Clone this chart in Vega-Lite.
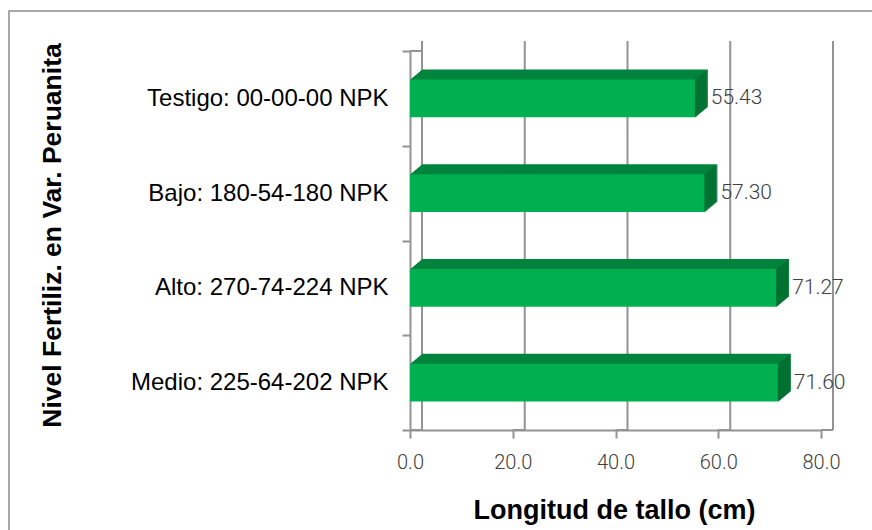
{
  "$schema": "https://vega.github.io/schema/vega-lite/v6.json",
  "width": 411,
  "height": 379,
  "autosize": "none",
  "padding": {"left": 410, "top": 51, "right": 51, "bottom": 100},
  "background": "white",
  "config": {"view": {"stroke": null}},
  "layer": [
    {
      "data": {"values": [{}]},
      "mark": {"type": "rect", "x": -401, "y": -40, "x2": 470, "y2": 490, "fill": null, "stroke": "#8c8c8c", "strokeWidth": 1.5},
      "encoding": {}
    },
    {
      "data": {"values": [{}]},
      "layer": [
        {"mark": {"type": "rule", "color": "#939393", "strokeWidth": 2, "xOffset": 12, "yOffset": -10, "y2Offset": -10}, "encoding": {"x": {"datum": 0, "type": "quantitative"}}},
        {"mark": {"type": "rule", "color": "#939393", "strokeWidth": 2, "xOffset": 12, "yOffset": -10, "y2Offset": -10}, "encoding": {"x": {"datum": 20, "type": "quantitative"}}},
        {"mark": {"type": "rule", "color": "#939393", "strokeWidth": 2, "xOffset": 12, "yOffset": -10, "y2Offset": -10}, "encoding": {"x": {"datum": 40, "type": "quantitative"}}},
        {"mark": {"type": "rule", "color": "#939393", "strokeWidth": 2, "xOffset": 12, "yOffset": -10, "y2Offset": -10}, "encoding": {"x": {"datum": 60, "type": "quantitative"}}},
        {"mark": {"type": "rule", "color": "#939393", "strokeWidth": 2, "xOffset": 12, "yOffset": -10, "y2Offset": -10}, "encoding": {"x": {"datum": 80, "type": "quantitative"}}},
        {"mark": {"type": "rule", "color": "#939393", "strokeWidth": 2, "y": "height", "y2": "height", "x2Offset": 12, "y2Offset": -10}, "encoding": {"x": {"datum": 0, "type": "quantitative"}, "x2": {"datum": 0}}},
        {"mark": {"type": "rule", "color": "#939393", "strokeWidth": 2, "y": "height", "y2": "height", "x2Offset": 12, "y2Offset": -10}, "encoding": {"x": {"datum": 20, "type": "quantitative"}, "x2": {"datum": 20}}},
        {"mark": {"type": "rule", "color": "#939393", "strokeWidth": 2, "y": "height", "y2": "height", "x2Offset": 12, "y2Offset": -10}, "encoding": {"x": {"datum": 40, "type": "quantitative"}, "x2": {"datum": 40}}},
        {"mark": {"type": "rule", "color": "#939393", "strokeWidth": 2, "y": "height", "y2": "height", "x2Offset": 12, "y2Offset": -10}, "encoding": {"x": {"datum": 60, "type": "quantitative"}, "x2": {"datum": 60}}},
        {"mark": {"type": "rule", "color": "#939393", "strokeWidth": 2, "y": "height", "y2": "height", "x2Offset": 12, "y2Offset": -10}, "encoding": {"x": {"datum": 80, "type": "quantitative"}, "x2": {"datum": 80}}},
        {"mark": {"type": "rule", "color": "#939393", "strokeWidth": 2, "y": 0, "y2": 0, "x2Offset": 12, "y2Offset": -10}, "encoding": {"x": {"datum": 0, "type": "quantitative"}, "x2": {"datum": 0}}}
      ]
    },
    {
      "data": {
        "values": [
          {"nivel": "Testigo: 00-00-00 NPK", "longitud": 55.43},
          {"nivel": "Bajo: 180-54-180 NPK", "longitud": 57.30},
          {"nivel": "Alto: 270-74-224 NPK", "longitud": 71.27},
          {"nivel": "Medio: 225-64-202 NPK", "longitud": 71.60}
        ]
      },
      "encoding": {
        "y": {
          "field": "nivel",
          "type": "nominal",
          "sort": null,
          "scale": {"paddingInner": 0, "paddingOuter": 0},
          "axis": {
            "title": "Nivel Fertiliz. en Var. Peruanita",
            "titleFont": "Liberation Sans",
            "titleFontSize": 26.5,
            "titleFontWeight": "bold",
            "titleColor": "#000000",
            "titleX": -350,
            "titleY": 184,
            "titleAngle": 270,
            "titleAlign": "center",
            "titleBaseline": "alphabetic",
            "labelFont": "Liberation Sans",
            "labelFontSize": 24,
            "labelColor": "#000000",
            "labelPadding": 14,
            "labelLimit": 400,
            "tickBand": "extent",
            "tickSize": 8,
            "tickColor": "#939393",
            "tickWidth": 2,
            "domainColor": "#939393",
            "domainWidth": 2,
            "grid": false
          }
        },
        "x": {
          "field": "longitud",
          "type": "quantitative",
          "scale": {"domain": [0, 80], "nice": false},
          "axis": {
            "title": "Longitud de tallo (cm)",
            "titleFont": "Liberation Sans",
            "titleFontSize": 27,
            "titleFontWeight": "bold",
            "titleColor": "#000000",
            "titleX": 204,
            "titleY": 88,
            "titleAlign": "center",
            "titleBaseline": "alphabetic",
            "values": [0, 20, 40, 60, 80],
            "format": ".1f",
            "labelFont": "Roboto",
            "labelFontWeight": 300,
            "labelFontSize": 20,
            "labelColor": "#404040",
            "labelPadding": 14,
            "labelFlush": false,
            "tickSize": 8,
            "tickColor": "#939393",
            "tickWidth": 2,
            "domainColor": "#939393",
            "domainWidth": 2,
            "grid": false
          }
        }
      },
      "layer": [
        {"mark": {"type": "bar", "height": {"band": 0.4}, "color": "#00843d", "xOffset": 1, "x2Offset": 1, "yOffset": -0.83, "y2Offset": -0.83}},
        {"mark": {"type": "bar", "height": {"band": 0.4}, "color": "#00843d", "xOffset": 2, "x2Offset": 2, "yOffset": -1.67, "y2Offset": -1.67}},
        {"mark": {"type": "bar", "height": {"band": 0.4}, "color": "#00843d", "xOffset": 3, "x2Offset": 3, "yOffset": -2.5, "y2Offset": -2.5}},
        {"mark": {"type": "bar", "height": {"band": 0.4}, "color": "#00843d", "xOffset": 4, "x2Offset": 4, "yOffset": -3.33, "y2Offset": -3.33}},
        {"mark": {"type": "bar", "height": {"band": 0.4}, "color": "#00843d", "xOffset": 5, "x2Offset": 5, "yOffset": -4.17, "y2Offset": -4.17}},
        {"mark": {"type": "bar", "height": {"band": 0.4}, "color": "#00843d", "xOffset": 6, "x2Offset": 6, "yOffset": -5, "y2Offset": -5}},
        {"mark": {"type": "bar", "height": {"band": 0.4}, "color": "#00843d", "xOffset": 7, "x2Offset": 7, "yOffset": -5.83, "y2Offset": -5.83}},
        {"mark": {"type": "bar", "height": {"band": 0.4}, "color": "#00843d", "xOffset": 8, "x2Offset": 8, "yOffset": -6.67, "y2Offset": -6.67}},
        {"mark": {"type": "bar", "height": {"band": 0.4}, "color": "#00843d", "xOffset": 9, "x2Offset": 9, "yOffset": -7.5, "y2Offset": -7.5}},
        {"mark": {"type": "bar", "height": {"band": 0.4}, "color": "#00843d", "xOffset": 10, "x2Offset": 10, "yOffset": -8.33, "y2Offset": -8.33}},
        {"mark": {"type": "bar", "height": {"band": 0.4}, "color": "#00843d", "xOffset": 11, "x2Offset": 11, "yOffset": -9.17, "y2Offset": -9.17}},
        {"mark": {"type": "bar", "height": {"band": 0.4}, "color": "#00843d", "xOffset": 12, "x2Offset": 12, "yOffset": -10, "y2Offset": -10}},
        {"mark": {"type": "bar", "height": {"band": 0.4}, "color": "#006f30", "xOffset": 0, "x2Offset": 1, "yOffset": 0, "y2Offset": 0}, "encoding": {"x2": {"field": "longitud"}}},
        {"mark": {"type": "bar", "height": {"band": 0.4}, "color": "#006f30", "xOffset": 1, "x2Offset": 2, "yOffset": -0.83, "y2Offset": -0.83}, "encoding": {"x2": {"field": "longitud"}}},
        {"mark": {"type": "bar", "height": {"band": 0.4}, "color": "#006f30", "xOffset": 2, "x2Offset": 3, "yOffset": -1.67, "y2Offset": -1.67}, "encoding": {"x2": {"field": "longitud"}}},
        {"mark": {"type": "bar", "height": {"band": 0.4}, "color": "#006f30", "xOffset": 3, "x2Offset": 4, "yOffset": -2.5, "y2Offset": -2.5}, "encoding": {"x2": {"field": "longitud"}}},
        {"mark": {"type": "bar", "height": {"band": 0.4}, "color": "#006f30", "xOffset": 4, "x2Offset": 5, "yOffset": -3.33, "y2Offset": -3.33}, "encoding": {"x2": {"field": "longitud"}}},
        {"mark": {"type": "bar", "height": {"band": 0.4}, "color": "#006f30", "xOffset": 5, "x2Offset": 6, "yOffset": -4.17, "y2Offset": -4.17}, "encoding": {"x2": {"field": "longitud"}}},
        {"mark": {"type": "bar", "height": {"band": 0.4}, "color": "#006f30", "xOffset": 6, "x2Offset": 7, "yOffset": -5, "y2Offset": -5}, "encoding": {"x2": {"field": "longitud"}}},
        {"mark": {"type": "bar", "height": {"band": 0.4}, "color": "#006f30", "xOffset": 7, "x2Offset": 8, "yOffset": -5.83, "y2Offset": -5.83}, "encoding": {"x2": {"field": "longitud"}}},
        {"mark": {"type": "bar", "height": {"band": 0.4}, "color": "#006f30", "xOffset": 8, "x2Offset": 9, "yOffset": -6.67, "y2Offset": -6.67}, "encoding": {"x2": {"field": "longitud"}}},
        {"mark": {"type": "bar", "height": {"band": 0.4}, "color": "#006f30", "xOffset": 9, "x2Offset": 10, "yOffset": -7.5, "y2Offset": -7.5}, "encoding": {"x2": {"field": "longitud"}}},
        {"mark": {"type": "bar", "height": {"band": 0.4}, "color": "#006f30", "xOffset": 10, "x2Offset": 11, "yOffset": -8.33, "y2Offset": -8.33}, "encoding": {"x2": {"field": "longitud"}}},
        {"mark": {"type": "bar", "height": {"band": 0.4}, "color": "#006f30", "xOffset": 11, "x2Offset": 12, "yOffset": -9.17, "y2Offset": -9.17}, "encoding": {"x2": {"field": "longitud"}}},
        {"mark": {"type": "bar", "height": {"band": 0.4}, "color": "#006f30", "xOffset": 12, "x2Offset": 13, "yOffset": -10, "y2Offset": -10}, "encoding": {"x2": {"field": "longitud"}}},
        {"mark": {"type": "bar", "height": {"band": 0.4}, "color": "#00b050"}},
        {
          "mark": {"type": "text", "align": "left", "baseline": "middle", "dx": 16, "font": "Roboto", "fontWeight": 300, "fontSize": 21, "color": "#404040"},
          "encoding": {"text": {"field": "longitud", "type": "quantitative", "format": ".2f"}}
        }
      ]
    }
  ]
}
